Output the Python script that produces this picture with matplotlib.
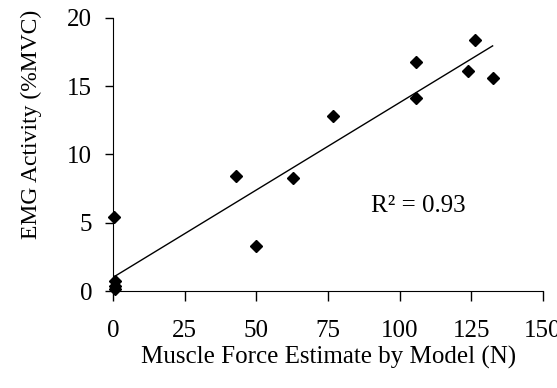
import numpy as np
import matplotlib
matplotlib.use("Agg")
import matplotlib.pyplot as plt

# values
force_n = [0.4, 0.6, 0.6, 0.5, 42.8, 49.9, 62.9, 76.6, 105.7, 105.7, 123.9, 126.3, 132.4]
emg_mvc = [5.4, 0.7, 0.4, 0.15, 8.4, 3.3, 8.3, 12.8, 16.8, 14.1, 16.1, 18.4, 15.6]
fit_slope = 0.128
fit_intercept = 1.0
r_squared = 0.93

x_ticks = [0, 25, 50, 75, 100, 125, 150]
y_ticks = [0, 5, 10, 15, 20]

plt.rcParams["font.family"] = ["Liberation Serif", "DejaVu Serif"]

fig = plt.figure(figsize=(5.57, 3.88), dpi=100)
ax = fig.add_axes([0.203, 0.25, 0.772, 0.704])

xs = np.array([0, max(force_n)])
ax.plot(xs, fit_intercept + fit_slope * xs, color="black", linewidth=1.0)
ax.plot(force_n, emg_mvc, linestyle="none", marker="D", markersize=6,
        color="black", clip_on=False, zorder=3)

ax.text(90, 6.2, f"R\u00b2 = {r_squared:.2f}", fontsize=18, va="center", ha="left")

ax.set_xlim(0, 150)
ax.set_ylim(0, 20)
ax.set_xticks(x_ticks)
ax.set_yticks(y_ticks)
ax.spines["top"].set_visible(False)
ax.spines["right"].set_visible(False)
ax.tick_params(axis="x", direction="out", length=7, width=1, pad=14, labelsize=18)
ax.tick_params(axis="y", direction="out", length=6, width=1, pad=9, labelsize=18)

ax.set_xlabel("Muscle Force Estimate by Model (N)", fontsize=18, labelpad=3)
ax.set_ylabel("EMG Activity (%MVC)", fontsize=17)
ax.yaxis.set_label_coords(-0.165, 0.61)

fig.savefig("out.png", dpi=100)
